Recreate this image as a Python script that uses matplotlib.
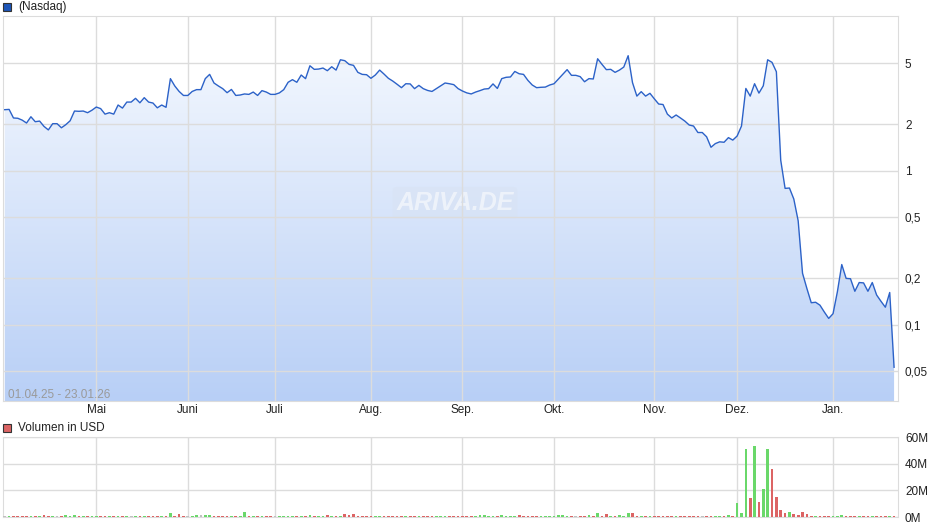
import numpy as np
import matplotlib
matplotlib.use("Agg")
import matplotlib.pyplot as plt
from matplotlib.patches import Polygon, Rectangle
from matplotlib.colors import LinearSegmentedColormap

plt.rcParams['font.family'] = ['Liberation Sans', 'DejaVu Sans']

# daily closing prices (USD), 01.04.25 - 23.01.26, one value per trading day
price = [
    2.49, 2.50, 2.20, 2.19, 2.13, 2.04, 2.24, 2.08, 2.10, 1.94,
    1.84, 2.02, 2.02, 1.90, 1.99, 2.11, 2.44, 2.43, 2.44, 2.38,
    2.47, 2.59, 2.53, 2.33, 2.38, 2.33, 2.67, 2.55, 2.79, 2.79,
    2.95, 2.76, 2.98, 2.79, 2.75, 2.56, 2.67, 2.58, 3.96, 3.55,
    3.27, 3.08, 3.08, 3.27, 3.36, 3.36, 3.96, 4.22, 3.71, 3.55,
    3.41, 3.21, 3.37, 3.08, 3.10, 3.15, 3.13, 3.24, 3.08, 3.31,
    3.24, 3.13, 3.13, 3.20, 3.36, 3.75, 3.90, 3.75, 4.18, 3.96,
    4.80, 4.55, 4.57, 4.64, 4.46, 4.73, 4.50, 5.25, 5.18, 4.90,
    4.83, 4.35, 4.22, 4.20, 3.98, 4.18, 4.50, 4.24, 3.98, 3.82,
    3.64, 3.46, 3.67, 3.66, 3.41, 3.58, 3.41, 3.32, 3.27, 3.41,
    3.55, 3.71, 3.67, 3.62, 3.41, 3.29, 3.20, 3.15, 3.24, 3.31,
    3.39, 3.41, 3.66, 3.42, 3.96, 4.04, 4.06, 4.41, 4.26, 4.22,
    3.86, 3.60, 3.46, 3.48, 3.49, 3.60, 3.67, 3.94, 4.24, 4.53,
    4.16, 4.16, 4.08, 3.78, 3.96, 3.94, 5.33, 4.90, 4.53, 4.55,
    4.35, 4.50, 4.71, 5.58, 3.73, 3.05, 3.26, 3.05, 3.18, 2.93,
    2.71, 2.69, 2.33, 2.20, 2.30, 2.20, 2.10, 1.98, 1.95, 1.77,
    1.77, 1.66, 1.42, 1.50, 1.54, 1.53, 1.64, 1.58, 1.68, 1.95,
    3.42, 3.05, 3.67, 3.19, 3.56, 5.25, 5.05, 4.39, 1.17, 0.768,
    0.772, 0.655, 0.473, 0.216, 0.172, 0.139, 0.140, 0.134, 0.121, 0.110,
    0.118, 0.164, 0.246, 0.200, 0.199, 0.165, 0.188, 0.187, 0.165, 0.188,
    0.156, 0.142, 0.130, 0.162, 0.053,
]

# daily volume in million USD
volume = [
    0.6, 0.6, 0.6, 0.6, 0.6, 0.6, 0.6, 0.6, 0.6, 1.3,
    0.6, 0.6, 0.6, 0.6, 1.3, 1.0, 1.3, 0.6, 0.6, 0.6,
    0.6, 0.6, 0.6, 0.6, 0.6, 0.6, 0.6, 0.6, 0.6, 0.6,
    0.6, 0.6, 0.6, 0.6, 0.6, 0.6, 0.6, 0.6, 3.2, 1.0,
    2.0, 0.6, 0.6, 0.6, 1.2, 1.2, 1.2, 1.2, 0.6, 0.6,
    0.6, 0.6, 0.6, 0.6, 0.6, 3.5, 0.6, 0.6, 0.6, 0.6,
    0.6, 0.6, 0.6, 0.6, 0.6, 0.6, 0.6, 0.6, 0.6, 0.6,
    1.3, 0.6, 0.6, 0.6, 1.5, 0.6, 0.6, 0.6, 2.0, 1.2,
    2.0, 0.6, 0.6, 0.6, 0.6, 0.6, 0.6, 0.6, 0.6, 0.6,
    0.6, 0.6, 0.6, 0.6, 0.6, 0.6, 0.6, 0.6, 0.6, 0.6,
    0.6, 0.6, 1.0, 0.6, 0.6, 1.0, 0.6, 0.6, 0.6, 1.2,
    1.2, 0.6, 0.6, 0.6, 1.2, 0.6, 0.6, 0.6, 1.8, 0.6,
    0.6, 0.6, 0.6, 0.6, 0.6, 0.6, 0.6, 1.2, 1.2, 0.6,
    0.6, 0.6, 0.6, 0.6, 1.2, 0.6, 3.2, 1.0, 2.3, 1.0,
    1.0, 1.2, 0.8, 3.0, 3.0, 1.0, 0.7, 0.7, 0.6, 0.6,
    0.6, 0.6, 0.6, 0.6, 0.6, 0.6, 0.6, 0.6, 0.6, 0.6,
    0.6, 0.6, 0.6, 0.6, 0.6, 1.0, 1.2, 0.6, 10.6, 3.0,
    51.0, 14.4, 53.0, 11.4, 21.0, 51.0, 35.7, 15.2, 5.3, 3.0,
    3.5, 2.0, 1.3, 4.0, 2.0, 0.8, 0.6, 0.8, 0.6, 0.6,
    0.6, 0.6, 1.6, 0.8, 0.6, 0.6, 0.6, 0.6, 0.6, 0.6,
    0.6, 0.6, 0.6, 0.6, 1.0,
]

month_idx = [21, 42, 62, 84, 105, 126, 149, 168, 190]
month_labels = ['Mai', 'Juni', 'Juli', 'Aug.', 'Sep.', 'Okt.', 'Nov.', 'Dez.', 'Jan.']
price_ticks = [0.05, 0.1, 0.2, 0.5, 1, 2, 5]
price_labels = ['0,05', '0,1', '0,2', '0,5', '1', '2', '5']
vol_ticks = [0, 20, 40, 60]
vol_labels = ['0M', '20M', '40M', '60M']

W, H = 940, 526
fig = plt.figure(figsize=(W / 100, H / 100), dpi=100)

def box(l, t, r, b):
    return [l / W, 1 - b / H, (r - l) / W, (b - t) / H]

grid_c = '#dcdcdc'
x = np.arange(len(price))
xlim = (-0.4, len(price) - 0.1)

# price panel
ax = fig.add_axes(box(3, 16, 898, 401))
ax.set_yscale('log')
ax.set_xlim(*xlim)
ax.set_ylim(0.032, 10.1)

grad = LinearSegmentedColormap.from_list('g', ['#b8cff6', '#f8fbff'])
img = ax.imshow(np.linspace(0, 1, 256).reshape(-1, 1), cmap=grad, origin='lower',
                extent=[0, 1, 0, 1], transform=ax.transAxes, aspect='auto', zorder=1)
pts = np.column_stack([np.r_[x[0], x, x[-1]], np.r_[0.01, price, 0.01]])
clip = Polygon(pts, closed=True, facecolor='none', edgecolor='none', transform=ax.transData)
ax.add_patch(clip)
img.set_clip_path(clip)

ax.plot(x, price, color='#2c62c8', lw=1.0, zorder=3)

ax.set_yticks(price_ticks)
ax.set_yticklabels(price_labels)
ax.yaxis.set_minor_locator(plt.NullLocator())
ax.set_xticks(month_idx)
ax.set_xticklabels(month_labels)
ax.yaxis.tick_right()
ax.tick_params(length=0, labelsize=8.5, colors='#222222')
ax.tick_params(axis='y', pad=5)
ax.tick_params(axis='x', pad=2.5)
ax.grid(True, color=grid_c, lw=1, zorder=2)
ax.set_axisbelow(False)
for s in ax.spines.values():
    s.set_color(grid_c)

ax.text(0.006, 0.0, '01.04.25 - 23.01.26', transform=ax.transAxes, fontsize=8.5,
        color='#9a9a9a', ha='left', va='bottom', zorder=4)
ax.text(0.505, 0.515, 'ARIVA.DE', transform=ax.transAxes, fontsize=18, color='white',
        alpha=0.55, fontweight='bold', style='italic', ha='center', va='center', zorder=2,
        bbox=dict(boxstyle='round,pad=0.15', facecolor='#d8e2f3', edgecolor='none', alpha=0.45))

# volume panel
vx = fig.add_axes(box(3, 437, 898, 517))
vx.set_xlim(*xlim)
vx.set_ylim(0, 60)
colors = []
for i in range(len(price)):
    d = price[i] - price[i - 1] if i > 0 else 0
    colors.append('#6ad86a' if d > 0 else ('#dc6464' if d < 0 else '#c0c0c0'))
vx.bar(x, volume, width=0.62, color=colors, zorder=3)
vx.set_yticks(vol_ticks)
vx.set_yticklabels(vol_labels)
vx.set_xticks(month_idx)
vx.set_xticklabels([])
vx.yaxis.tick_right()
vx.tick_params(length=0, labelsize=8.5, colors='#222222', pad=5)
vx.grid(True, color=grid_c, lw=1, zorder=1)
for s in vx.spines.values():
    s.set_color(grid_c)

# legends
fig.add_artist(Rectangle((3 / W, 1 - 11 / H), 8 / W, 8 / H, transform=fig.transFigure,
                         facecolor='#1d55b8', edgecolor='#333333', lw=0.8))
fig.text(18 / W, 1 - 7 / H, '(Nasdaq)', fontsize=8.5, va='center', ha='left', color='#222222')
fig.add_artist(Rectangle((3 / W, 1 - 432 / H), 8 / W, 8 / H, transform=fig.transFigure,
                         facecolor='#dc6464', edgecolor='#333333', lw=0.8))
fig.text(18 / W, 1 - 428 / H, 'Volumen in USD', fontsize=8.5, va='center', ha='left', color='#222222')

fig.savefig('out.png', dpi=100)
